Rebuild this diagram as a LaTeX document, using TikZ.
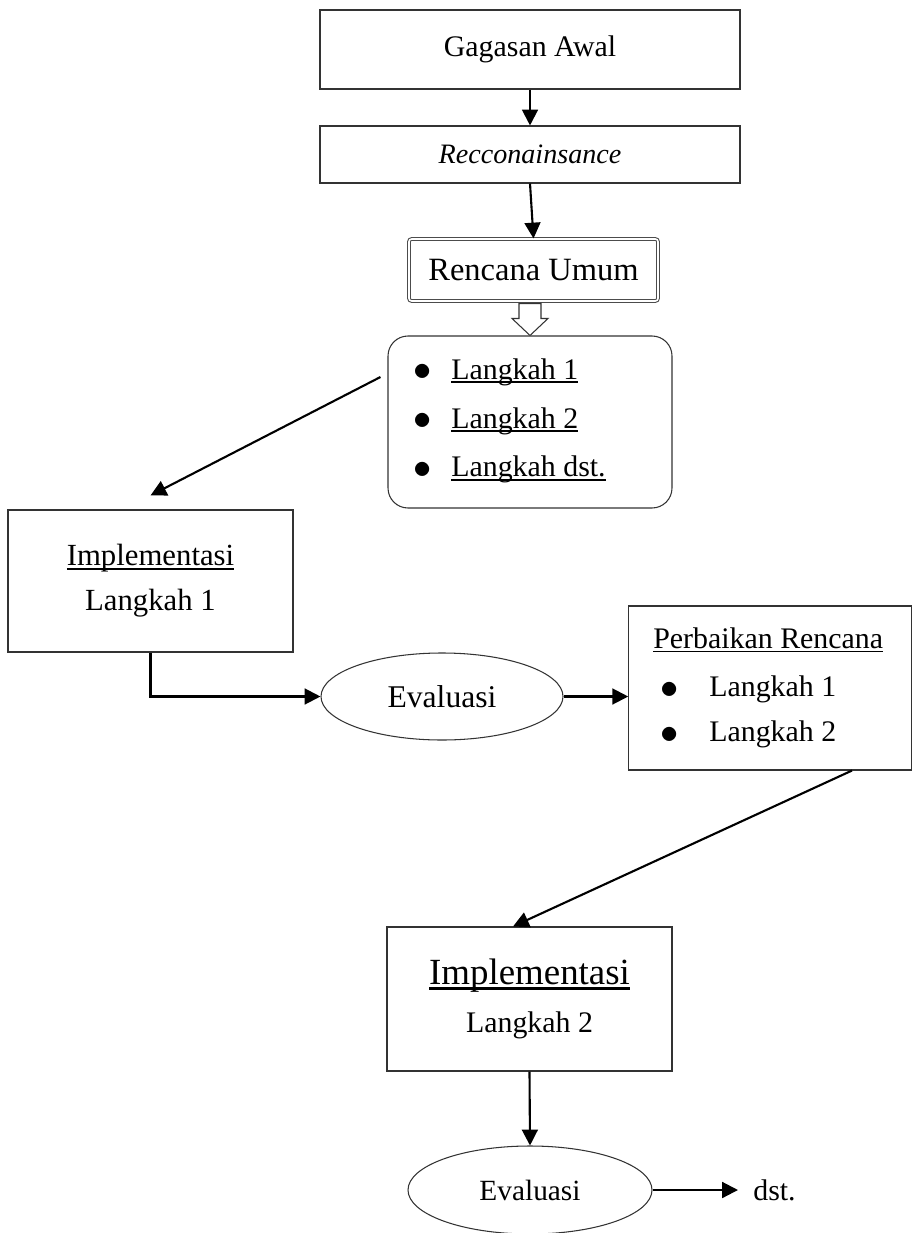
\documentclass[tikz,border=0pt]{standalone}
\usepackage{fontspec}
\setmainfont{Liberation Serif}
\usetikzlibrary{calc,shapes,arrows.meta}

\newcommand{\pxu}{0.02cm}
% underline close to the baseline
\newcommand{\garis}[1]{{\setbox0\hbox{#1}\rlap{\rule[-0.13em]{\wd0}{0.065em}}\box0}}
% bigger bullet
\newcommand{\titik}{\raisebox{-0.05em}{\fontsize{22}{22}\selectfont$\bullet$}}

\tikzset{
  box/.style={draw=black!80, line width=0.6pt, inner sep=0pt, align=center},
  oval/.style={ellipse, draw=black!80, line width=0.6pt, inner sep=0pt},
  conn/.style={-{Triangle[length=9pt,width=9pt]}, line width=1.2pt},
  big/.style={font=\fontsize{17}{25.5}\selectfont},
}

\begin{document}
\begin{tikzpicture}[x=\pxu, y=-\pxu]
    \useasboundingbox (0,0) rectangle (912,1233);

    % top of the chain
    \node[box, big, minimum width=420*\pxu, minimum height=79*\pxu] (gagasan) at (530,49.5) {Gagasan Awal};
    \node[box, font=\fontsize{16}{20}\selectfont\itshape, minimum width=420*\pxu, minimum height=57*\pxu] (recco) at (530,154.5) {Recconainsance};
    \node[box, draw=black!70, double, double distance=0.9pt, rounded corners=1.5pt, font=\fontsize{18.5}{22}\selectfont,
        minimum width=249*\pxu, minimum height=62*\pxu] (rencana) at (533.5,270) {Rencana Umum};

    % list of steps
    \node[box, rounded corners=0.4cm, minimum width=284*\pxu, minimum height=172*\pxu] (langkah) at (530,422) {};
    \node[anchor=west, inner sep=0pt, align=left, font=\fontsize{17}{27.8}\selectfont] (langkahtxt) at (413,421)
        {\makebox[0.76cm][l]{\titik}\garis{Langkah 1}\\
         \makebox[0.76cm][l]{\titik}\garis{Langkah 2}\\
         \makebox[0.76cm][l]{\titik}\garis{Langkah dst.}};

    % first round
    \node[box, font=\fontsize{17.5}{25.5}\selectfont, minimum width=285*\pxu, minimum height=142*\pxu] (impl1) at (150.5,581)
        {\garis{Implementasi}\\Langkah 1};
    \node[oval, font=\fontsize{18}{22}\selectfont, minimum width=242*\pxu, minimum height=87*\pxu] (eval1) at (442,696.5) {Evaluasi};
    \node[box, minimum width=282.5*\pxu, minimum height=164*\pxu] (perb) at (770,688) {};
    \node[anchor=west, inner sep=0pt, align=left, big] (perbtxt) at (653,688)
        {\garis{Perbaikan Rencana}\\[2pt]
         \hspace*{0.14cm}\makebox[0.98cm][l]{\titik}Langkah 1\\
         \hspace*{0.14cm}\makebox[0.98cm][l]{\titik}Langkah 2};

    % second round
    \node[box, font=\fontsize{17}{27}\selectfont, minimum width=285*\pxu, minimum height=144*\pxu] (impl2) at (529.5,999)
        {{\fontsize{21}{25}\selectfont\garis{Implementasi}}\\Langkah 2};
    \node[oval, font=\fontsize{16.7}{20}\selectfont, minimum width=244*\pxu, minimum height=88*\pxu] (eval2) at (530,1190) {Evaluasi};
    \node[anchor=west, inner sep=0pt, big] (dst) at (753,1190) {dst.};

    % connectors
    \draw[conn] (gagasan) -- (recco);
    \draw[conn] (recco.south) -- (rencana.north);
    \draw[draw=black!80, line width=0.6pt, fill=white] ($(langkah.north)+(-11,-32)$) -- ++(22,0) -- ++(0,15) -- ++(7,0)
        -- (langkah.north) -- ++(-18,-17) -- ++(7,0) -- cycle;
    \draw[conn] ($(langkah.west)+(-7,-45)$) -- ($(impl1.north)+(0,-14)$);
    \draw[conn] (impl1.south) |- (eval1.west);
    \draw[conn] (eval1.east) -- (eval1.east -| perb.west);
    \draw[conn] ($(perb.south)+(82,0)$) -- ($(impl2.north)+(-16.5,0)$);
    \draw[conn] (impl2.south) -- (eval2.north);
    \draw[conn, shorten >=0.3cm] (eval2.east) -- (dst.west);
\end{tikzpicture}
\end{document}
